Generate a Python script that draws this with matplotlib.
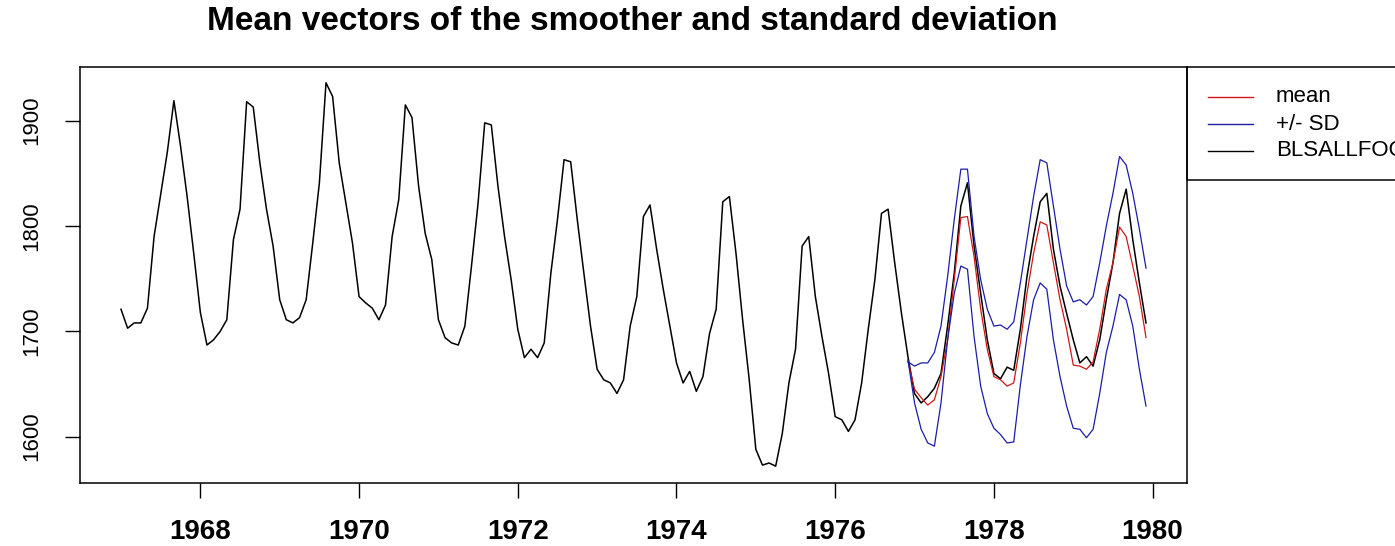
import numpy as np
import matplotlib
matplotlib.use("Agg")
import matplotlib.pyplot as plt
from matplotlib.lines import Line2D
from matplotlib.patches import Rectangle

# monthly series, Jan 1967 - Dec 1979
blsallfood = [
    1721, 1703, 1708, 1708, 1722, 1790, 1830, 1870, 1919, 1876, 1828, 1774,
    1718, 1687, 1692, 1700, 1711, 1787, 1816, 1918, 1913, 1860, 1816, 1781,
    1730, 1711, 1708, 1713, 1730, 1784, 1841, 1936, 1923, 1860, 1822, 1784,
    1733, 1727, 1722, 1711, 1725, 1790, 1825, 1915, 1903, 1838, 1793, 1768,
    1711, 1694, 1689, 1687, 1705, 1762, 1822, 1898, 1896, 1838, 1790, 1749,
    1702, 1675, 1683, 1675, 1689, 1755, 1806, 1863, 1861, 1806, 1755, 1705,
    1664, 1654, 1651, 1641, 1654, 1705, 1733, 1809, 1820, 1778, 1740, 1705,
    1670, 1651, 1662, 1643, 1657, 1698, 1721, 1823, 1828, 1774, 1711, 1654,
    1588, 1573, 1575, 1572, 1603, 1651, 1683, 1781, 1790, 1733, 1695, 1660,
    1619, 1616, 1605, 1616, 1651, 1702, 1749, 1812, 1816, 1765, 1718, 1676,
    1641, 1632, 1638, 1646, 1660, 1705, 1755, 1819, 1841, 1781, 1736, 1692,
    1660, 1655, 1666, 1663, 1702, 1752, 1790, 1823, 1831, 1778, 1743, 1717,
    1692, 1670, 1676, 1667, 1692, 1730, 1765, 1812, 1835, 1787, 1746, 1708,
]

# smoother output, Dec 1976 - Dec 1979
sm_start = 1976 + 11 / 12
sm_mean = [
    1672,
    1645, 1637, 1630, 1635, 1657, 1692, 1749, 1808, 1809, 1771, 1721, 1683,
    1657, 1654, 1648, 1651, 1689, 1736, 1774, 1804, 1801, 1765, 1730, 1702,
    1668, 1667, 1664, 1671, 1702, 1740, 1765, 1799, 1790, 1762, 1733, 1694,
]
sm_upper = [
    1671,
    1667, 1670, 1670, 1680, 1705, 1752, 1806, 1854, 1854, 1790, 1749, 1721,
    1705, 1706, 1702, 1709, 1746, 1787, 1828, 1863, 1860, 1819, 1778, 1743,
    1728, 1730, 1725, 1733, 1765, 1800, 1831, 1866, 1858, 1831, 1797, 1760,
]
sm_lower = [
    1673,
    1632, 1607, 1594, 1591, 1632, 1692, 1736, 1762, 1759, 1695, 1648, 1622,
    1608, 1602, 1594, 1595, 1649, 1695, 1730, 1746, 1740, 1692, 1657, 1629,
    1608, 1607, 1599, 1607, 1641, 1680, 1705, 1735, 1730, 1705, 1664, 1629,
]
legend_labels = ['mean', '+/- SD', 'BLSALLFOOD']

red = '#d01818'
blue = '#1c1ca8'

t = 1967 + np.arange(len(blsallfood)) / 12
ts = sm_start + np.arange(len(sm_mean)) / 12

W, H = 1395, 546
fig = plt.figure(figsize=(W / 100, H / 100), dpi=100)
plt.rcParams['font.family'] = ['Liberation Sans', 'DejaVu Sans']
ax = fig.add_axes([80 / W, 1 - 483 / H, (1187 - 80) / W, (483 - 67) / H])

ax.plot(t, blsallfood, color='black', lw=1.1)
ax.plot(ts, sm_mean, color=red, lw=0.9)
ax.plot(ts, sm_upper, color=blue, lw=0.9)
ax.plot(ts, sm_lower, color=blue, lw=0.9)

span = t[-1] - t[0]
ax.set_xlim(t[0] - 0.04 * span, t[-1] + 0.04 * span)
ax.set_ylim(1556, 1951)

ax.set_xticks(np.arange(1968, 1981, 2))
ax.set_yticks([1600, 1700, 1800, 1900])
ax.tick_params(axis='both', length=11, width=1.0, direction='out')
ax.tick_params(axis='x', labelsize=20, pad=15)
ax.tick_params(axis='y', labelsize=16, pad=16)
for lab in ax.get_xticklabels():
    lab.set_fontweight('bold')
for lab in ax.get_yticklabels():
    lab.set_rotation(90)
    lab.set_va('center')
for s in ax.spines.values():
    s.set_linewidth(1.1)

fig.text(632 / W, 1 - 22 / H, 'Mean vectors of the smoother and standard deviation',
         ha='center', va='center', fontsize=24, fontweight='bold')

# legend, box runs past the right edge like the original
fig.add_artist(Rectangle((1187 / W, 1 - 180 / H), 400 / W, (180 - 67) / H,
                         transform=fig.transFigure, fill=False, ec='black',
                         lw=1.1, clip_on=False))
legend_cols = [red, blue, 'black']
for k, (label, col) in enumerate(zip(legend_labels, legend_cols)):
    yy = 97 + 27 * k
    fig.add_artist(Line2D([1208 / W, 1253 / W], [1 - yy / H, 1 - yy / H],
                          transform=fig.transFigure, color=col, lw=1.0))
    fig.text(1276 / W, 1 - yy / H, label, ha='left', va='center', fontsize=16)

fig.savefig('out.png', dpi=100)
